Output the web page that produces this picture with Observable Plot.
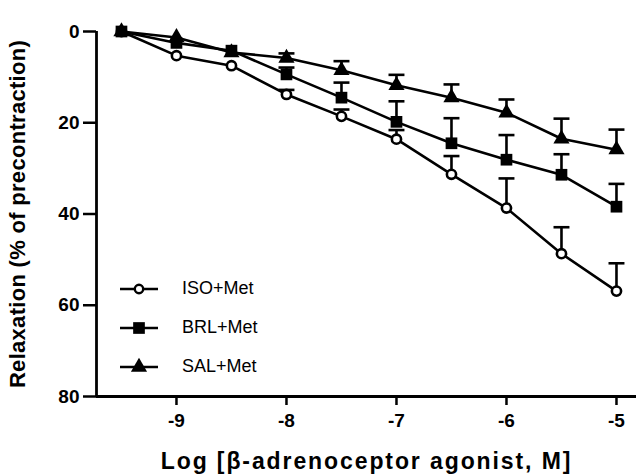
<!DOCTYPE html>
<html>
<head>
<meta charset="utf-8">
<script src="https://cdn.jsdelivr.net/npm/d3@7"></script>
<script src="https://cdn.jsdelivr.net/npm/@observablehq/plot@0.6"></script>
<style>
  html, body { margin: 0; padding: 0; background: #fff; }
  #wrap { position: relative; width: 636px; height: 475px; }
  #chart svg { font-family: "Liberation Sans", Arial, sans-serif; }
  #chart [aria-label="y-axis tick label"] text,
  #chart [aria-label="x-axis tick label"] text { font-weight: bold; font-size: 19px; }
  #chart [aria-label="y-axis label"] text { font-weight: bold; font-size: 22px; letter-spacing: 0.3px; }
  #chart [aria-label="x-axis label"] text { font-weight: bold; font-size: 23px; letter-spacing: 1.9px; }
  #legend { position: absolute; left: 118px; top: 269px; font-family: "Liberation Sans", Arial, sans-serif; font-size: 18px; }
  #legend .row { display: flex; align-items: center; height: 39px; }
  #legend svg { margin-right: 22px; }
</style>
</head>
<body>
<div id="wrap"><div id="chart"></div><div id="legend"></div></div>
<script>
const logDose = [-9.5, -9, -8.5, -8, -7.5, -7, -6.5, -6, -5.5, -5];
const seriesNames = ["ISO+Met", "BRL+Met", "SAL+Met"];
const isoMean = [0, 5.3, 7.5, 13.8, 18.6, 23.6, 31.3, 38.7, 48.7, 56.9];
const isoSem  = [0, 0.6, 0.6, 1.0, 1.5, 2.0, 4.0, 6.5, 5.8, 6.1];
const brlMean = [0, 2.5, 4.2, 9.4, 14.5, 19.8, 24.5, 28.1, 31.4, 38.4];
const brlSem  = [0, 0.8, 0.8, 1.5, 3.3, 4.5, 5.5, 5.4, 4.5, 5.0];
const salMean = [0, 1.3, 4.6, 5.8, 8.5, 11.8, 14.5, 17.8, 23.5, 25.9];
const salSem  = [0, 0.5, 0.5, 1.0, 2.0, 2.3, 2.9, 2.9, 4.4, 4.4];
const xTicks = [-9, -8, -7, -6, -5];
const yTicks = [0, 20, 40, 60, 80];

const means = [isoMean, brlMean, salMean];
const sems = [isoSem, brlSem, salSem];
const data = [];
seriesNames.forEach((s, i) => logDose.forEach((x, j) =>
  data.push({series: s, x, y: means[i][j], lo: means[i][j] - sems[i][j]})));

const capSymbol = {
  draw(ctx, size) { const r = Math.sqrt(size) / 2; ctx.moveTo(-r, 0); ctx.lineTo(r, 0); }
};
const sw = 2.6;

const chart = Plot.plot({
  width: 636, height: 475,
  marginLeft: 96, marginRight: 0, marginTop: 31, marginBottom: 79,
  x: {domain: [-9.727, -4.818]},
  y: {domain: [0, 80], reverse: true},
  marks: [
    Plot.axisX({ticks: xTicks, tickSize: 9, tickPadding: 8, strokeWidth: 2.5, tickFormat: d => String(d),
      label: "Log [β-adrenoceptor agonist, M]", labelAnchor: "center", labelArrow: "none", labelOffset: 72}),
    Plot.axisY({ticks: yTicks, tickSize: 13, tickPadding: 4, strokeWidth: 2.5,
      label: "Relaxation (% of precontraction)", labelAnchor: "center", labelArrow: "none", labelOffset: 87}),
    Plot.ruleX([-9.727], {strokeWidth: 2.8}),
    Plot.ruleY([80], {strokeWidth: 2.8}),
    Plot.line(data, {x: "x", y: "y", z: "series", stroke: "black", strokeWidth: sw}),
    Plot.ruleX(data.filter(d => d.y - d.lo > 0.8), {x: "x", y1: "lo", y2: "y", stroke: "black", strokeWidth: sw}),
    Plot.dot(data.filter(d => d.y - d.lo > 0.8), {x: "x", y: "lo", symbol: capSymbol, r: 9, stroke: "black", strokeWidth: sw, fill: "none"}),
    Plot.dot(data.filter(d => d.series === "ISO+Met"), {x: "x", y: "y", symbol: "circle", r: 4.6, stroke: "black", strokeWidth: 2.6, fill: "white"}),
    Plot.dot(data.filter(d => d.series === "BRL+Met"), {x: "x", y: "y", symbol: "square", r: 6.6, fill: "black", stroke: "none"}),
    Plot.dot(data.filter(d => d.series === "SAL+Met"), {x: "x", y: "y", symbol: "triangle", r: 6, fill: "black", stroke: "none"})
  ]
});
document.getElementById("chart").appendChild(chart);

// legend
const legend = d3.select("#legend");
seriesNames.forEach(s => {
  const row = legend.append("div").attr("class", "row");
  const svg = row.append("svg").attr("width", 42).attr("height", 20);
  svg.append("line").attr("x1", 2).attr("x2", 40).attr("y1", 10).attr("y2", 10).attr("stroke", "black").attr("stroke-width", sw);
  const sym = d3.symbol().type(s === "ISO+Met" ? d3.symbolCircle : s === "BRL+Met" ? d3.symbolSquare : d3.symbolTriangle)
    .size(s === "ISO+Met" ? Math.PI * 4.2 * 4.2 : s === "BRL+Met" ? Math.PI * 6.6 * 6.6 : Math.PI * 6 * 6);
  const p = svg.append("path").attr("d", sym()).attr("transform", "translate(21,10)");
  if (s === "ISO+Met") p.attr("fill", "white").attr("stroke", "black").attr("stroke-width", 2.4);
  else p.attr("fill", "black");
  row.append("span").text(s);
});
</script>
</body>
</html>
